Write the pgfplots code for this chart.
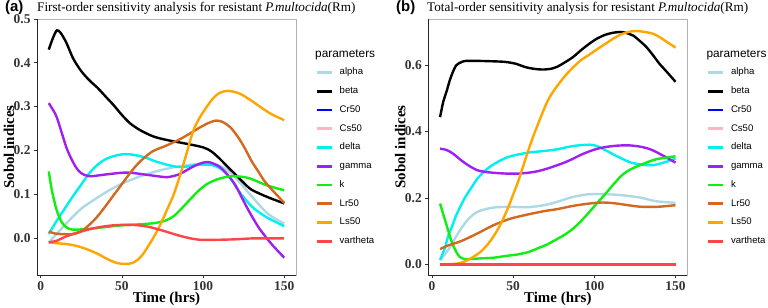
\documentclass[border=0pt]{standalone}
\usepackage{pgfplots}
\pgfplotsset{compat=1.18}
\usepackage{fontspec}
\setmainfont{Liberation Serif}
\newfontfamily\legfont{Liberation Sans}

\definecolor{alphacol}{HTML}{ADD8E6}
\definecolor{betacol}{HTML}{000000}
\definecolor{crcol}{HTML}{0000FF}
\definecolor{cscol}{HTML}{FFB6C1}
\definecolor{deltacol}{HTML}{00F0F0}
\definecolor{gammacol}{HTML}{A020F0}
\definecolor{kcol}{HTML}{11EE11}
\definecolor{lrcol}{HTML}{D2691E}
\definecolor{lscol}{HTML}{FFA500}
\definecolor{vtcol}{HTML}{FF4545}

\pgfplotsset{
  sobol/.style={
    scale only axis, width=259bp, height=256bp,
    anchor=south west,
    xmin=-2.25, xmax=157.25,
    xtick={0,50,100,150}, xticklabels={0,50,100,150},
    xtick pos=left, ytick pos=left, tick align=outside,
    major tick length=3bp,
    tick style={black!80, line width=0.6pt},
    axis line style={gray!60, line width=0.6pt},
    tick label style={font=\bfseries\fontsize{13.5}{13.5}\selectfont, text=black!80},
    xticklabel style={anchor=base, yshift=-12.7bp},
    xlabel={Time (hrs)}, ylabel={Sobol indices},
    every axis x label/.style={at={(rel axis cs:0.5,0)}, anchor=base, yshift=-27.5bp,
      font=\bfseries\fontsize{15}{15}\selectfont},
    every axis y label/.style={at={(rel axis cs:0,0.5)}, rotate=90, anchor=center, yshift=28bp,
      font=\bfseries\fontsize{15}{15}\selectfont},
    every axis plot/.append style={line width=2.4bp, smooth, tension=0.5},
    after end axis/.code={\draw[black!85, line width=0.7pt] (rel axis cs:0,1) -- (rel axis cs:0,0) -- (rel axis cs:1,0);},
  },
}
\tikzset{
  legkey/.style={line width=2.6bp},
  legtext/.style={anchor=west, inner sep=0pt, text height=6.8bp, text depth=1.9bp,
    font=\legfont\fontsize{9.6}{9.6}\selectfont},
  legtitle/.style={anchor=west, inner sep=0pt, font=\legfont\fontsize{11.9}{11.9}\selectfont},
}

% ---------- first-order indices ----------
\pgfplotstableread{
t v
5 -0.010
10 0.010
15 0.030
20 0.049
25 0.067
30 0.080
40 0.104
50 0.124
60 0.139
70 0.151
80 0.160
90 0.166
100 0.170
108 0.168
115 0.155
120 0.138
130 0.095
140 0.055
150 0.033
}\SAalpha
\pgfplotstableread{
t v
5 0.430
10 0.474
15 0.452
20 0.410
25 0.381
30 0.360
35 0.343
40 0.323
45 0.303
50 0.281
55 0.262
60 0.249
65 0.239
70 0.231
75 0.226
80 0.222
90 0.215
100 0.207
105 0.198
110 0.182
115 0.163
120 0.145
125 0.126
130 0.110
140 0.093
150 0.079
}\SAbeta
\pgfplotstableread{
t v
5 0.009
10 0.040
15 0.068
20 0.096
25 0.122
30 0.148
35 0.167
40 0.180
45 0.187
50 0.191
55 0.191
60 0.188
65 0.183
70 0.176
78 0.167
85 0.162
90 0.163
97 0.167
105 0.167
110 0.160
114 0.148
118 0.130
122 0.107
130 0.072
138 0.050
144 0.038
150 0.027
}\SAdelta
\pgfplotstableread{
t v
5 0.308
8 0.290
10 0.275
13 0.240
16 0.205
19 0.180
22 0.160
25 0.148
30 0.141
40 0.145
50 0.149
55 0.149
60 0.147
70 0.142
78 0.139
85 0.145
90 0.155
95 0.165
100 0.172
104 0.173
110 0.163
115 0.145
120 0.120
126 0.077
130 0.050
135 0.020
142 -0.013
150 -0.045
}\SAgamma
\pgfplotstableread{
t v
5 0.152
7 0.107
10 0.062
13 0.036
16 0.024
20 0.019
30 0.021
40 0.025
50 0.029
60 0.031
70 0.034
77 0.040
82 0.050
87 0.068
92 0.088
97 0.107
102 0.122
108 0.133
115 0.140
120 0.141
128 0.137
138 0.122
144 0.115
150 0.109
}\SAk
\pgfplotstableread{
t v
5 0.015
8 0.011
12 0.009
20 0.009
25 0.015
29 0.027
34 0.045
39 0.068
44 0.093
49 0.118
54 0.143
59 0.166
64 0.184
69 0.198
74 0.206
78 0.212
87 0.228
97 0.250
103 0.262
108 0.268
112 0.265
117 0.252
122 0.228
126 0.203
130 0.175
134 0.152
138 0.129
144 0.104
150 0.080
}\SAlr
\pgfplotstableread{
t v
5 -0.010
10 -0.012
16 -0.014
22 -0.018
28 -0.025
35 -0.036
41 -0.048
46 -0.056
50 -0.059
54 -0.059
57 -0.056
60 -0.049
63 -0.037
66 -0.020
69 -0.002
72 0.018
75 0.041
78 0.066
82 0.100
86 0.145
90 0.195
94 0.245
98 0.275
102 0.298
106 0.318
110 0.331
115 0.336
120 0.333
124 0.327
130 0.313
135 0.300
142 0.283
150 0.269
}\SAls
\pgfplotstableread{
t v
5 -0.010
10 -0.006
16 0.004
25 0.015
35 0.024
45 0.029
53 0.030
60 0.029
67 0.025
75 0.017
83 0.008
90 0.001
98 -0.004
110 -0.004
120 -0.003
130 -0.001
140 -0.001
150 -0.001
}\SAvt

% ---------- total-order indices ----------
\pgfplotstableread{
t v
5 0.013
8 0.030
12 0.058
15 0.085
18 0.108
22 0.134
26 0.152
30 0.162
38 0.171
48 0.173
59 0.172
69 0.178
77 0.188
87 0.203
97 0.211
107 0.211
117 0.208
128 0.201
138 0.190
150 0.185
}\STalpha
\pgfplotstableread{
t v
5 0.443
7 0.490
9 0.520
11 0.554
13 0.580
15 0.599
18 0.608
21 0.612
28 0.612
36 0.611
45 0.609
52 0.603
57 0.594
63 0.588
69 0.586
74 0.589
77 0.594
82 0.608
87 0.624
92 0.645
97 0.664
102 0.680
107 0.691
112 0.697
117 0.699
121 0.694
124 0.688
128 0.672
132 0.654
136 0.630
140 0.604
145 0.577
150 0.549
}\STbeta
\pgfplotstableread{
t v
5 0.013
8 0.050
10 0.085
13 0.122
15 0.148
20 0.198
25 0.236
28 0.258
33 0.283
38 0.301
44 0.317
49 0.326
59 0.336
69 0.341
77 0.346
87 0.356
97 0.360
102 0.355
107 0.343
112 0.330
117 0.318
122 0.307
128 0.301
134 0.298
138 0.300
144 0.308
150 0.318
}\STdelta
\pgfplotstableread{
t v
5 0.348
9 0.344
13 0.333
18 0.313
23 0.296
28 0.283
33 0.278
39 0.275
46 0.273
53 0.273
60 0.276
65 0.280
71 0.288
77 0.298
82 0.307
87 0.318
92 0.330
97 0.340
102 0.348
107 0.353
114 0.357
121 0.358
127 0.355
132 0.350
136 0.343
140 0.333
145 0.320
150 0.306
}\STgamma
\pgfplotstableread{
t v
5 0.183
7 0.150
9 0.118
11 0.085
13 0.058
15 0.037
17 0.023
20 0.016
24 0.016
30 0.018
38 0.020
45 0.025
53 0.030
60 0.038
65 0.048
71 0.060
77 0.076
82 0.090
87 0.108
92 0.131
97 0.158
102 0.186
107 0.213
112 0.242
117 0.268
122 0.285
128 0.298
133 0.308
138 0.316
144 0.321
150 0.325
}\STk
\pgfplotstableread{
t v
5 0.046
10 0.057
18 0.070
28 0.093
38 0.118
48 0.137
59 0.150
69 0.160
77 0.166
87 0.176
97 0.183
105 0.186
112 0.184
118 0.180
125 0.175
130 0.173
138 0.173
144 0.175
150 0.178
}\STlr
\pgfplotstableread{
t v
5 0.000
13 0.001
18 0.005
22 0.013
26 0.024
30 0.038
34 0.058
38 0.085
42 0.118
46.7 0.168
50 0.210
53 0.248
56 0.293
59 0.338
62 0.380
65 0.418
68 0.455
71 0.489
74 0.515
77 0.536
82 0.567
87 0.593
92 0.615
97 0.631
102 0.648
107 0.664
112 0.680
117 0.693
122 0.700
126 0.702
131 0.699
136 0.694
140 0.684
145 0.668
150 0.652
}\STls
\pgfplotstableread{
t v
5 0
50 0
100 0
150 0
}\STvt

\begin{document}
\begin{tikzpicture}
\useasboundingbox (0,0) rectangle (768bp,308bp);

\begin{axis}[sobol, name=A, at={(37bp,33bp)},
  ymin=-0.0845, ymax=0.5,
  ytick={0,0.1,0.2,0.3,0.4,0.5}, yticklabels={0.0,0.1,0.2,0.3,0.4,0.5}]
  \addplot[color=alphacol] table[x=t,y=v] {\SAalpha};
  \addplot[color=betacol] table[x=t,y=v] {\SAbeta};
  \addplot[color=deltacol] table[x=t,y=v] {\SAdelta};
  \addplot[color=gammacol] table[x=t,y=v] {\SAgamma};
  \addplot[color=kcol] table[x=t,y=v] {\SAk};
  \addplot[color=lrcol] table[x=t,y=v] {\SAlr};
  \addplot[color=lscol] table[x=t,y=v] {\SAls};
  \addplot[color=vtcol] table[x=t,y=v] {\SAvt};
\end{axis}

\begin{axis}[sobol, name=B, at={(428.3bp,33bp)},
  ymin=-0.032, ymax=0.738,
  ytick={0,0.2,0.4,0.6}, yticklabels={0.0,0.2,0.4,0.6}]
  \addplot[color=alphacol] table[x=t,y=v] {\STalpha};
  \addplot[color=betacol] table[x=t,y=v] {\STbeta};
  \addplot[color=deltacol] table[x=t,y=v] {\STdelta};
  \addplot[color=gammacol] table[x=t,y=v] {\STgamma};
  \addplot[color=kcol] table[x=t,y=v] {\STk};
  \addplot[color=lrcol] table[x=t,y=v] {\STlr};
  \addplot[color=lscol] table[x=t,y=v] {\STls};
  \addplot[color=vtcol] table[x=t,y=v] {\STvt};
\end{axis}

% legends: one key per parameter, to the right of each panel
\foreach \ax in {A,B} {
  \node[legtitle] at ([xshift=19bp, yshift=-35.5bp]\ax.north east) {parameters};
  \foreach \nm/\cl [count=\i from 0] in {alpha/alphacol, beta/betacol, Cr50/crcol,
      Cs50/cscol, delta/deltacol, gamma/gammacol, k/kcol, Lr50/lrcol, Ls50/lscol,
      vartheta/vtcol} {
    \draw[legkey, \cl] ([xshift=20.5bp, yshift={-53.5bp-18.75bp*\i}]\ax.north east) -- ++(15.5bp,0);
    \node[legtext] at ([xshift=43.5bp, yshift={-53.5bp-18.75bp*\i}]\ax.north east) {\nm};
  }
}

% panel titles
\node[anchor=base west, inner sep=0pt, font=\fontsize{13.2}{13.2}\selectfont]
  at (37bp,296bp) {First-order sensitivity analysis for resistant \textit{P.multocida}(Rm)};
\node[anchor=base west, inner sep=0pt, font=\legfont\bfseries\fontsize{15}{15}\selectfont]
  at (5bp,296bp) {(a)};
\node[anchor=base west, inner sep=0pt, font=\fontsize{13.2}{13.2}\selectfont]
  at (427bp,296bp) {Total-order sensitivity analysis for resistant \textit{P.multocida}(Rm)};
\node[anchor=base west, inner sep=0pt, font=\legfont\bfseries\fontsize{15}{15}\selectfont]
  at (396bp,296bp) {(b)};
\end{tikzpicture}
\end{document}
